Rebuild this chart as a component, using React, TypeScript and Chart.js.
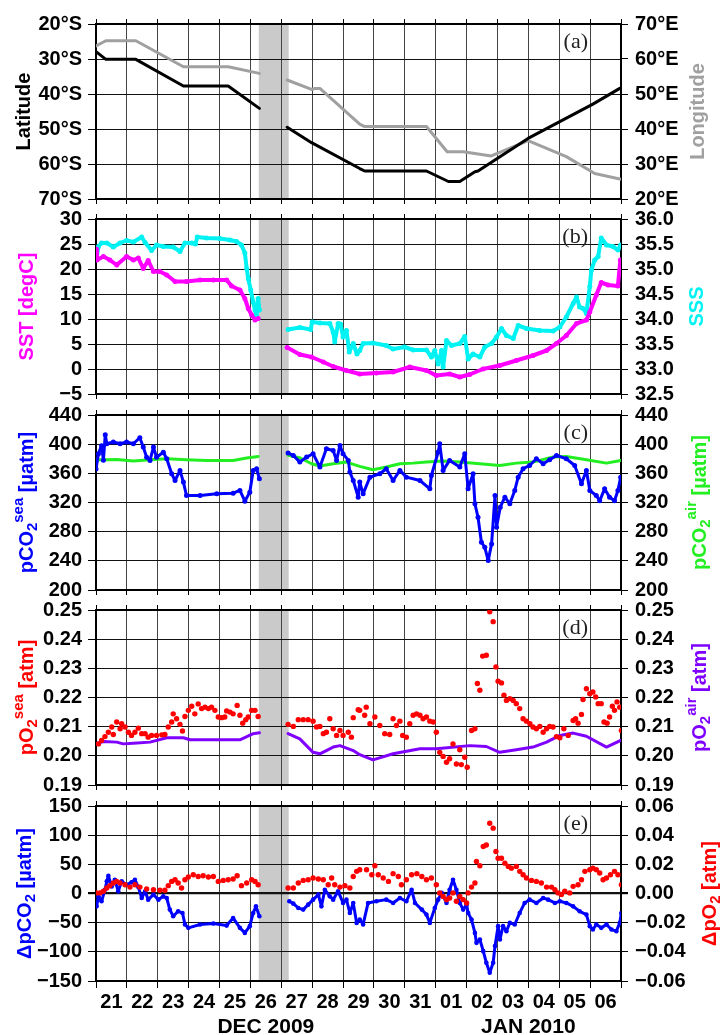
import React, { useEffect, useRef } from 'react';
import { Chart, registerables } from 'chart.js';

Chart.register(...registerables);

type P = [number, number];

// x = days since 21 Dec 2009 00:00 (UTC)
const dayLabels = ['21', '22', '23', '24', '25', '26', '27', '28', '29', '30', '31', '01', '02', '03', '04', '05', '06'];
const monthNames = ['DEC 2009', 'JAN 2010'];
const monthSpans: P[] = [[0, 11], [11, 17]];
const panelLetters = ['(a)', '(b)', '(c)', '(d)', '(e)'];
const gapBand: P = [5.27, 6.24];

const latTicks = [20, 30, 40, 50, 60, 70];
const lonTicks = [20, 30, 40, 50, 60, 70];
const sstTicks = [-5, 0, 5, 10, 15, 20, 25, 30];
const sssTicks = [32.5, 33, 33.5, 34, 34.5, 35, 35.5, 36];
const pco2Ticks = [200, 240, 280, 320, 360, 400, 440];
const po2Ticks = [0.19, 0.2, 0.21, 0.22, 0.23, 0.24, 0.25];
const dpco2Ticks = [-150, -100, -50, 0, 50, 100, 150];
const dpo2Ticks = [-0.06, -0.04, -0.02, 0, 0.02, 0.04, 0.06];

// (a) latitude [deg S] and longitude [deg E]
const latitude: P[] = [
  [0, 27.9], [0.32, 30.1], [1.29, 30.1], [2.83, 37.7], [4.28, 37.7], [5.29, 44.1],
  [6.19, 49.5], [6.98, 53.9], [8.54, 61.3], [8.7, 62], [10.7, 62], [11.41, 65], [11.78, 65],
  [12.27, 62.2], [12.37, 62], [13.99, 52.7], [16.09, 42.9], [16.96, 38.4],
];
const longitude: P[] = [
  [0, 63.7], [0.32, 65.2], [1.29, 65.2], [2.83, 57.8], [4.28, 57.8], [5.29, 55.9],
  [6.19, 54], [6.98, 51.3], [7.1, 51.6], [7.25, 51.6], [8.54, 41.4], [8.7, 40.7], [10.7, 40.7],
  [11.37, 33.5], [11.89, 33.5], [12.8, 32.3], [13.99, 36.7], [15.23, 32.1], [16.15, 27.3], [17, 25.6],
];

// (b) SST [degC] and SSS
const sst: P[] = [
  [0.0, 24.0], [0.03, 21.8], [0.24, 22.5], [0.45, 21.8], [0.67, 20.8], [0.99, 22.5], [1.21, 21.8],
  [1.37, 22.2], [1.53, 20.1], [1.69, 21.7], [1.86, 19.5], [2.07, 19.5], [2.29, 18.8], [2.56, 17.5],
  [2.93, 17.5], [3.37, 17.8], [3.8, 17.8], [4.23, 17.8], [4.39, 16.6], [4.66, 15.8], [4.82, 14.1],
  [4.93, 12.1], [5.04, 10.8], [5.15, 9.8], [5.25, 10.1],
  [6.19, 4.3], [6.6, 2.9], [6.98, 2.4], [7.36, 1.4], [7.68, 0.5], [8.11, -0.3], [8.54, -1.0],
  [9.08, -0.8], [9.62, -0.6], [10.16, 0.4], [10.7, -0.3], [11.02, -1.3], [11.45, -1.0], [11.78, -1.6],
  [12.1, -1.1], [12.53, 0.0], [13.07, 0.7], [13.61, 1.7], [14.15, 2.7], [14.59, 3.7], [14.91, 5.1],
  [15.23, 6.7], [15.56, 9.1], [15.88, 9.8], [15.99, 11.4], [16.2, 14.8], [16.36, 17.3], [16.58, 16.8],
  [16.9, 16.6], [16.98, 21.8],
];
const sss: P[] = [
  [0.02, 35.22], [0.08, 35.45], [0.18, 35.52], [0.35, 35.52], [0.56, 35.44], [0.78, 35.52], [0.99, 35.57],
  [1.21, 35.54], [1.48, 35.64], [1.59, 35.53], [1.8, 35.37], [1.96, 35.48], [2.18, 35.45], [2.5, 35.44],
  [2.72, 35.35], [2.88, 35.52], [3.1, 35.52], [3.22, 35.5], [3.28, 35.64], [3.58, 35.62], [4.01, 35.61],
  [4.34, 35.58], [4.55, 35.55], [4.71, 35.48], [4.82, 35.32], [4.88, 35.01], [4.93, 34.81], [5.01, 34.58],
  [5.09, 34.34], [5.15, 34.18], [5.2, 34.06], [5.25, 34.41], [5.29, 34.18],
  [6.22, 33.79], [6.6, 33.83], [6.95, 33.79], [7.0, 33.94], [7.25, 33.92], [7.57, 33.91], [7.68, 33.74],
  [7.73, 33.54], [7.84, 33.91], [7.92, 33.9], [8.0, 33.64], [8.11, 33.77], [8.2, 33.34], [8.33, 33.51],
  [8.45, 33.3], [8.54, 33.37], [8.65, 33.51], [8.97, 33.52], [9.4, 33.47], [9.62, 33.4], [9.99, 33.44],
  [10.27, 33.38], [10.7, 33.38], [10.86, 33.24], [10.97, 33.37], [11.08, 33.1], [11.19, 33.37],
  [11.24, 33.04], [11.35, 33.57], [11.51, 33.47], [11.78, 33.51], [11.94, 33.65], [12.05, 33.2],
  [12.21, 33.3], [12.43, 33.24], [12.59, 33.44], [12.81, 33.51], [12.97, 33.64], [13.13, 33.81],
  [13.29, 33.67], [13.51, 33.61], [13.67, 33.87], [13.94, 33.81], [14.37, 33.77], [14.8, 33.76],
  [15.02, 33.84], [15.23, 34.04], [15.45, 34.31], [15.56, 34.44], [15.66, 34.24], [15.77, 34.21],
  [15.88, 34.11], [15.99, 34.65], [16.04, 34.98], [16.15, 35.18], [16.26, 35.25], [16.36, 35.62],
  [16.53, 35.48], [16.74, 35.45], [16.9, 35.38], [16.99, 35.48],
];

// (c) pCO2 sea / air [uatm]
const pco2Sea: P[] = [
  [0.0, 366], [0.08, 387], [0.18, 398], [0.24, 378], [0.3, 413], [0.35, 400.6], [0.56, 403], [0.78, 400.6],
  [0.99, 403], [1.21, 400.6], [1.42, 408.9], [1.53, 396], [1.64, 382], [1.75, 377.7], [1.86, 396],
  [1.96, 382], [2.18, 389], [2.29, 380], [2.45, 359.4], [2.56, 350.2], [2.72, 364], [2.83, 348],
  [2.93, 329.6], [3.37, 329.6], [3.91, 331.9], [4.44, 332.8], [4.66, 336.5], [4.82, 321.8], [4.98, 334.2],
  [5.09, 364], [5.2, 366.3], [5.29, 352.5],
  [6.22, 387.8], [6.39, 384.6], [6.6, 375.4], [6.82, 382.3], [7.03, 386.9], [7.25, 368.6], [7.46, 393.7],
  [7.68, 391.4], [7.79, 377.7], [7.9, 398.3], [8.0, 386.9], [8.17, 377.7], [8.22, 361.7], [8.33, 350.2],
  [8.49, 327.3], [8.54, 348], [8.65, 332], [8.87, 354.8], [9.19, 359.4], [9.4, 366.3], [9.62, 350.2],
  [9.84, 364], [10.05, 354.8], [10.49, 350.2], [10.81, 338.8], [10.86, 357], [11.08, 389.2],
  [11.13, 400.6], [11.24, 364], [11.45, 377.7], [11.78, 368.6], [11.94, 386.9], [12.05, 338.8],
  [12.21, 359.4], [12.27, 318.2], [12.37, 299.8], [12.48, 265.5], [12.59, 258.6], [12.7, 240.3],
  [12.81, 263.2], [12.92, 329.6], [12.97, 286.1], [13.09, 313.6], [13.24, 327.3], [13.4, 318.2],
  [13.56, 336.5], [13.67, 354.8], [13.83, 366.3], [14.04, 370.8], [14.26, 380], [14.48, 373.1],
  [14.69, 378.6], [14.91, 384.6], [15.23, 380], [15.5, 370.8], [15.72, 345.6], [15.88, 364],
  [15.99, 336.5], [16.2, 329.6], [16.31, 322.3], [16.47, 338.8], [16.63, 327.3], [16.79, 322.3],
  [16.9, 336.5], [16.99, 354.8],
];
const pco2Air: P[] = [
  [0.02, 378.6], [0.24, 378.6], [0.67, 379], [1.21, 376.8], [1.75, 378.6], [2.29, 380], [2.93, 378.6],
  [3.58, 377.7], [4.44, 377.7], [4.88, 381], [5.25, 383.2],
  [6.22, 384.6], [6.6, 381.4], [6.98, 373.1], [7.25, 370], [7.68, 373.1], [8.11, 375.4], [8.54, 369.5],
  [8.97, 364.9], [9.4, 368.6], [9.84, 373.1], [10.27, 374], [10.7, 375.4], [11.24, 376.8], [11.78, 375.4],
  [12.43, 373.1], [13.07, 370.8], [13.61, 374], [14.15, 375.4], [14.8, 382.3], [15.23, 383.2],
  [15.88, 378.6], [16.53, 374], [16.99, 377.7],
];

// (d) pO2 sea / air [atm]
const po2Sea: P[] = [
  [0.08, 0.2041], [0.18, 0.2053], [0.29, 0.2066], [0.4, 0.2081], [0.51, 0.2099], [0.56, 0.2073],
  [0.67, 0.2116], [0.78, 0.2093], [0.83, 0.211], [0.94, 0.2099], [1.05, 0.2081], [1.15, 0.207],
  [1.26, 0.2081], [1.37, 0.2095], [1.48, 0.2076], [1.59, 0.2076], [1.69, 0.2064], [1.8, 0.207],
  [1.96, 0.207], [2.13, 0.2072], [2.23, 0.2073], [2.34, 0.2099], [2.45, 0.2116], [2.5, 0.2144],
  [2.61, 0.2127], [2.72, 0.2108], [2.8, 0.2085], [2.88, 0.2135], [2.99, 0.2156], [3.1, 0.217],
  [3.2, 0.2144], [3.31, 0.2178], [3.42, 0.2162], [3.53, 0.2167], [3.64, 0.2162], [3.74, 0.2167],
  [3.85, 0.2156], [3.96, 0.2133], [4.07, 0.2131], [4.17, 0.2133], [4.23, 0.2154], [4.34, 0.215],
  [4.44, 0.2144], [4.57, 0.2173], [4.66, 0.2139], [4.75, 0.2112], [4.85, 0.2124], [4.93, 0.2133],
  [5.04, 0.2156], [5.15, 0.2156], [5.25, 0.2135],
  [6.22, 0.2108], [6.39, 0.2101], [6.55, 0.2124], [6.71, 0.2124], [6.87, 0.2124], [7.03, 0.2119],
  [7.14, 0.2099], [7.25, 0.2101], [7.36, 0.2076], [7.46, 0.2081], [7.57, 0.2127], [7.68, 0.2093],
  [7.79, 0.207], [7.9, 0.2087], [8.0, 0.207], [8.17, 0.2081], [8.27, 0.2064], [8.33, 0.2131],
  [8.49, 0.2158], [8.54, 0.2156], [8.7, 0.2139], [8.75, 0.2167], [8.87, 0.211], [9.03, 0.2133],
  [9.19, 0.2104], [9.35, 0.2076], [9.51, 0.2073], [9.62, 0.2127], [9.73, 0.2104], [9.84, 0.2119],
  [9.93, 0.207], [10.05, 0.2064], [10.16, 0.211], [10.27, 0.2139], [10.38, 0.2144], [10.49, 0.2139],
  [10.59, 0.2127], [10.7, 0.2133], [10.81, 0.2119], [10.92, 0.2116], [11.02, 0.2081], [11.13, 0.2012],
  [11.24, 0.1998], [11.35, 0.1978], [11.45, 0.199], [11.56, 0.2041], [11.67, 0.1972], [11.78, 0.2021],
  [11.83, 0.197], [11.94, 0.1995], [12.02, 0.1961], [12.16, 0.2087], [12.27, 0.2093], [12.35, 0.2248],
  [12.43, 0.2225], [12.52, 0.2342], [12.64, 0.2345], [12.75, 0.2494], [12.86, 0.246], [12.95, 0.2305],
  [13.02, 0.2256], [13.13, 0.225], [13.21, 0.2208], [13.29, 0.219], [13.4, 0.2196], [13.51, 0.219],
  [13.61, 0.2179], [13.72, 0.2162], [13.83, 0.2127], [13.94, 0.2119], [14.05, 0.211], [14.15, 0.2099],
  [14.26, 0.2093], [14.37, 0.2101], [14.48, 0.2081], [14.59, 0.2093], [14.69, 0.2101], [14.8, 0.2099],
  [14.91, 0.2066], [15.02, 0.2062], [15.15, 0.2093], [15.29, 0.207], [15.45, 0.2121], [15.53, 0.2127],
  [15.61, 0.2112], [15.72, 0.2142], [15.77, 0.2193], [15.88, 0.223], [15.99, 0.2213], [16.09, 0.2219],
  [16.18, 0.2202], [16.26, 0.2179], [16.36, 0.2179], [16.45, 0.2116], [16.55, 0.2112], [16.63, 0.2133],
  [16.72, 0.217], [16.79, 0.2156], [16.87, 0.2185], [16.96, 0.2167], [17.01, 0.2087],
];
const po2Air: P[] = [
  [0.0, 0.2041], [0.24, 0.2049], [0.67, 0.2047], [0.88, 0.2041], [1.21, 0.2043], [1.75, 0.2047],
  [2.29, 0.2062], [2.83, 0.2062], [3.04, 0.2055], [3.91, 0.2055], [4.66, 0.2055], [5.09, 0.2076],
  [5.29, 0.2079],
  [6.22, 0.2076], [6.6, 0.2058], [7.03, 0.2012], [7.25, 0.2007], [7.68, 0.203], [7.9, 0.2035],
  [8.33, 0.2018], [8.54, 0.2004], [8.97, 0.1986], [9.62, 0.2007], [10.49, 0.2024], [11.02, 0.2024],
  [12.1, 0.2035], [12.64, 0.2032], [13.07, 0.2012], [13.61, 0.2021], [14.15, 0.203], [14.59, 0.2047],
  [15.02, 0.207], [15.45, 0.2078], [15.88, 0.2067], [16.53, 0.203], [16.99, 0.2053],
];

// (e) delta pCO2 [uatm] and delta pO2 [atm]
const dpco2: P[] = [
  [0.02, -22], [0.08, -4.9], [0.18, -13.4], [0.29, 6.5], [0.35, 20.8], [0.4, 30.4], [0.51, 12.2],
  [0.61, 23.6], [0.72, 3.7], [0.83, 20.8], [0.99, 15.1], [1.15, 19.1], [1.26, 23.6], [1.37, 11.1],
  [1.48, -7.7], [1.59, 3.7], [1.69, -10.5], [1.86, -2], [2.02, -10.5], [2.18, -4.9], [2.29, -7.7],
  [2.39, -27.6], [2.5, -39], [2.66, -30.5], [2.8, -33.3], [2.88, -53.2], [2.99, -58.9], [3.37, -53.2],
  [3.8, -51.5], [4.23, -55], [4.44, -41.9], [4.66, -58.9], [4.82, -67.5], [4.98, -56], [5.09, -33.3],
  [5.18, -22], [5.29, -39],
  [6.26, -13.4], [6.39, -17.4], [6.55, -24.8], [6.71, -27.6], [6.87, -19.1], [7.03, -10.5], [7.2, -2],
  [7.3, -22], [7.41, 6.5], [7.57, -4.9], [7.68, -10.5], [7.84, 3.7], [8.0, -16.2], [8.11, -10.5],
  [8.22, -33.3], [8.33, -16.2], [8.44, -50.4], [8.54, -44.7], [8.65, -53], [8.81, -16.2], [9.08, -13.4],
  [9.4, -10.5], [9.62, -16.2], [9.84, -7.7], [10.05, -13.4], [10.22, 6.5], [10.33, -16.2], [10.55, -27.6],
  [10.7, -36.2], [10.81, -50.4], [10.97, -24.8], [11.08, -10.5], [11.19, 1], [11.35, -16.2], [11.45, 6.5],
  [11.56, 23.6], [11.67, 6.5], [11.78, -16.2], [11.89, -27.6], [12.0, -19.1], [12.05, -33.3],
  [12.16, -44.7], [12.27, -67.5], [12.32, -84.6], [12.43, -78.9], [12.54, -98.8], [12.64, -118.7],
  [12.75, -135.8], [12.86, -118.7], [12.92, -90.2], [13.02, -56], [13.08, -78.9], [13.18, -56],
  [13.29, -64.6], [13.4, -50.4], [13.56, -53.2], [13.72, -33.3], [13.88, -16.2], [14.04, -10.5],
  [14.26, -16.2], [14.48, -7.7], [14.64, -10.5], [14.86, -16.2], [15.02, -13.4], [15.23, -16.2],
  [15.45, -22], [15.66, -30.5], [15.88, -36.2], [15.99, -56], [16.09, -61.8], [16.2, -53.2],
  [16.36, -58.9], [16.53, -53.2], [16.69, -61.8], [16.85, -64.6], [16.96, -50.4], [17.01, -33.3],
];
const dpo2: P[] = [
  [0.02, 0.0004], [0.13, 0.0004], [0.24, 0.0015], [0.35, 0.0038], [0.45, 0.0054], [0.56, 0.0072],
  [0.67, 0.0083], [0.78, 0.0072], [0.94, 0.006], [1.1, 0.0044], [1.26, 0.006], [1.42, 0.0044],
  [1.64, 0.0031], [1.86, 0.0026], [2.07, 0.0022], [2.23, 0.0022], [2.34, 0.0054], [2.45, 0.0083],
  [2.56, 0.0094], [2.66, 0.0072], [2.77, 0.0038], [2.88, 0.0094], [2.99, 0.0113], [3.15, 0.0129],
  [3.31, 0.0117], [3.47, 0.0122], [3.64, 0.0113], [3.8, 0.0117], [3.96, 0.0083], [4.12, 0.009],
  [4.28, 0.0094], [4.44, 0.0099], [4.57, 0.0122], [4.71, 0.0054], [4.88, 0.0072], [5.04, 0.0094],
  [5.15, 0.0083], [5.25, 0.006],
  [6.22, 0.0038], [6.39, 0.0038], [6.55, 0.0072], [6.71, 0.009], [6.87, 0.0094], [7.03, 0.0106],
  [7.2, 0.0099], [7.36, 0.0094], [7.52, 0.006], [7.63, 0.0106], [7.73, 0.006], [7.9, 0.0044],
  [8.06, 0.0054], [8.22, 0.0038], [8.33, 0.0117], [8.44, 0.0152], [8.54, 0.0163], [8.76, 0.0163],
  [8.93, 0.0129], [9.03, 0.019], [9.14, 0.0129], [9.3, 0.0106], [9.47, 0.0083], [9.62, 0.0136],
  [9.79, 0.0117], [9.89, 0.006], [10.05, 0.0094], [10.22, 0.0129], [10.39, 0.0136], [10.55, 0.0117],
  [10.7, 0.0094], [10.86, 0.0106], [11.02, 0.006], [11.13, 0.0004], [11.24, -0.002], [11.35, -0.0042],
  [11.45, -0.0031], [11.56, 0.0004], [11.67, -0.0053], [11.78, -0.002], [11.89, -0.0042],
  [12.0, -0.0065], [12.05, 0.0004], [12.16, 0.0044], [12.27, 0.0072], [12.32, 0.022], [12.43, 0.019],
  [12.54, 0.0322], [12.64, 0.0333], [12.75, 0.0482], [12.86, 0.0448], [12.95, 0.0288], [13.02, 0.0242],
  [13.13, 0.0242], [13.24, 0.0208], [13.35, 0.0186], [13.45, 0.0174], [13.61, 0.0186], [13.72, 0.0152],
  [13.83, 0.0129], [13.94, 0.0106], [14.1, 0.009], [14.26, 0.0083], [14.42, 0.0072], [14.59, 0.0044],
  [14.75, 0.0044], [14.86, 0.0026], [14.96, 0.0004], [15.07, -0.0007], [15.18, 0.0015], [15.34, 0.0004],
  [15.45, 0.0049], [15.61, 0.006], [15.72, 0.0094], [15.83, 0.0152], [15.99, 0.0163], [16.09, 0.0174],
  [16.2, 0.0163], [16.31, 0.0141], [16.42, 0.0094], [16.53, 0.0106], [16.66, 0.0129], [16.79, 0.0152],
  [16.9, 0.0129], [17.01, 0.006],
];

const FONT = '"Liberation Sans", Arial, Helvetica, sans-serif';
const TICK_SIZE = 20;
const GAP_MID = (gapBand[0] + gapBand[1]) / 2;
const TOPBOX = 22;
const PH = 175;

type Seg = { t: string; k?: 'sub' | 'sup' };
interface AxisSpec {
  ticks: number[];
  fmt: (v: number) => string;
  reverse?: boolean;
  title: Seg[];
  color: string;
  tx: number;
}
interface SeriesSpec {
  data: P[];
  side: 'L' | 'R';
  color: string;
  mode: 'line' | 'dots' | 'both';
  width?: number;
  radius?: number;
}
interface PanelSpec {
  top: number;
  idx: number;
  L: AxisSpec;
  R: AxisSpec;
  series: SeriesSpec[];
  last?: boolean;
  zero?: boolean;
}

const signed = (v: number, d: number) => {
  const s = Math.abs(v).toFixed(d);
  return v < -1e-9 ? '\u2212' + s : s;
};

function drawTitle(ctx: CanvasRenderingContext2D, segs: Seg[], cx: number, cy: number, color: string) {
  ctx.save();
  ctx.translate(cx, cy);
  ctx.rotate(-Math.PI / 2);
  ctx.fillStyle = color;
  ctx.textBaseline = 'middle';
  ctx.textAlign = 'left';
  const fontOf = (s: Seg) => `bold ${s.k ? 15 : 20}px ${FONT}`;
  let total = 0;
  segs.forEach((s) => {
    ctx.font = fontOf(s);
    total += ctx.measureText(s.t).width;
  });
  let x = -total / 2;
  segs.forEach((s) => {
    ctx.font = fontOf(s);
    const dy = s.k === 'sub' ? 6 : s.k === 'sup' ? -8 : 0;
    ctx.fillText(s.t, x, dy);
    x += ctx.measureText(s.t).width;
  });
  ctx.restore();
}

const bandPlugin = {
  id: 'band',
  beforeDraw(chart: any) {
    const { ctx, chartArea: a, scales } = chart;
    const x0 = scales.x.getPixelForValue(gapBand[0]);
    const x1 = scales.x.getPixelForValue(gapBand[1]);
    ctx.save();
    ctx.fillStyle = '#CACACA';
    ctx.fillRect(x0, a.top, x1 - x0, a.bottom - a.top);
    ctx.restore();
  },
};

function makeDecor(spec: PanelSpec) {
  return {
    id: 'decor',
    afterDraw(chart: any) {
      const { ctx, chartArea: a, scales } = chart;
      const cy = (a.top + a.bottom) / 2;
      drawTitle(ctx, spec.L.title, spec.L.tx, cy, spec.L.color);
      drawTitle(ctx, spec.R.title, spec.R.tx, cy, spec.R.color);
      ctx.save();
      ctx.font = `22px "Liberation Serif", "Times New Roman", serif`;
      ctx.fillStyle = '#222';
      ctx.textAlign = 'right';
      ctx.textBaseline = 'middle';
      ctx.fillText(panelLetters[spec.idx], a.right - 33, a.top + 18);
      if (spec.last) {
        ctx.font = `bold 21px ${FONT}`;
        ctx.fillStyle = '#000';
        ctx.textAlign = 'center';
        monthNames.forEach((m, i) => {
          const xc = (scales.x.getPixelForValue(monthSpans[i][0]) + scales.x.getPixelForValue(monthSpans[i][1])) / 2;
          ctx.fillText(m, xc, a.bottom + 46);
        });
      }
      ctx.restore();
    },
  };
}

const dayTicks = dayLabels.map((_, i) => i).concat([dayLabels.length]);
const labelTicks = dayTicks.concat(dayLabels.map((_, i) => i + 0.5)).sort((p, q) => p - q);
const isInt = (v: number) => Math.abs(v - Math.round(v)) < 1e-6;

function Panel({ spec }: { spec: PanelSpec }) {
  const ref = useRef<HTMLCanvasElement>(null);
  const BOT = spec.last ? 54 : 22;
  const height = TOPBOX + PH + BOT;
  useEffect(() => {
    const tickFont = { family: FONT, size: TICK_SIZE, weight: 'bold' as const };
    const yAxis = (ax: AxisSpec, pos: 'left' | 'right', onArea: boolean) => ({
      type: 'linear' as const,
      position: pos,
      min: Math.min(...ax.ticks),
      max: Math.max(...ax.ticks),
      reverse: !!ax.reverse,
      afterBuildTicks: (s: any) => {
        s.ticks = ax.ticks.map((v) => ({ value: v }));
      },
      ticks: {
        autoSkip: false,
        padding: pos === 'left' ? 6 : 7,
        color: '#000',
        font: tickFont,
        callback: (v: any) => ax.fmt(Number(v)),
      },
      grid: {
        drawOnChartArea: onArea,
        color: '#111',
        tickColor: '#000',
        lineWidth: (c: any) => (spec.zero && c.tick && Math.abs(c.tick.value) < 1e-9 ? 2.2 : 1),
        tickLength: pos === 'left' ? 8 : 7,
      },
      border: { color: '#000', width: 2 },
      afterFit: (s: any) => {
        s.width = pos === 'left' ? 96 : 103;
      },
    });
    const chart = new Chart(ref.current as HTMLCanvasElement, {
      type: 'scatter',
      data: {
        datasets: spec.series.map((s) => ({
          data: s.data.map(([x, y]) => ({ x, y })),
          xAxisID: 'x',
          yAxisID: s.side === 'L' ? 'y' : 'y2',
          showLine: s.mode !== 'dots',
          borderColor: s.color,
          backgroundColor: s.color,
          borderWidth: s.width ?? 3,
          borderJoinStyle: 'round',
          borderCapStyle: 'round',
          pointRadius: s.mode === 'line' ? 0 : s.radius ?? 2,
          pointBorderWidth: 0,
          pointHoverRadius: 0,
          tension: 0,
          segment: {
            borderColor: (c: any) =>
              c.p0.parsed.x < GAP_MID && c.p1.parsed.x > GAP_MID ? 'rgba(0,0,0,0)' : undefined,
          },
        })),
      },
      options: {
        responsive: false,
        animation: false,
        devicePixelRatio: 1,
        events: [],
        layout: { padding: 0 },
        plugins: { legend: { display: false }, tooltip: { enabled: false } },
        scales: {
          x: {
            type: 'linear',
            position: 'bottom',
            min: 0,
            max: dayLabels.length,
            afterBuildTicks: (s: any) => {
              s.ticks = (spec.last ? labelTicks : dayTicks).map((v) => ({ value: v }));
            },
            ticks: {
              display: !!spec.last,
              autoSkip: false,
              maxRotation: 0,
              minRotation: 0,
              padding: 2,
              color: '#000',
              font: tickFont,
              callback: (v: any) => {
                const n = Number(v);
                return isInt(n) ? '' : dayLabels[Math.floor(n)];
              },
            },
            grid: {
              color: (c: any) => (c.tick && isInt(c.tick.value) ? '#444' : 'rgba(0,0,0,0)'),
              tickColor: (c: any) => (c.tick && isInt(c.tick.value) ? '#000' : 'rgba(0,0,0,0)'),
              lineWidth: 1,
              tickLength: spec.last ? 7 : 5,
            },
            border: { color: '#000', width: 2 },
            afterFit: (s: any) => {
              s.height = BOT;
            },
          },
          x2: {
            type: 'linear',
            position: 'top',
            min: 0,
            max: dayLabels.length,
            afterBuildTicks: (s: any) => {
              s.ticks = dayTicks.map((v) => ({ value: v }));
            },
            ticks: { display: false },
            grid: { drawOnChartArea: false, color: '#000', tickLength: 5, lineWidth: 1 },
            border: { color: '#000', width: 2 },
            afterFit: (s: any) => {
              s.height = TOPBOX;
            },
          },
          y: yAxis(spec.L, 'left', true),
          y2: yAxis(spec.R, 'right', false),
        },
      } as any,
      plugins: [bandPlugin, makeDecor(spec)],
    });
    return () => chart.destroy();
  }, [spec]);
  return (
    <canvas
      ref={ref}
      width={724}
      height={height}
      style={{ position: 'absolute', left: 0, top: spec.top - TOPBOX, width: 724, height }}
    />
  );
}

const CYAN = '#00F2F2';
const MAGENTA = '#FF00FF';
const BLUE = '#0000FF';
const GREEN = '#22EE22';
const RED = '#FF0000';
const PURPLE = '#7F00FF';
const GRAY = '#A0A0A0';

const panels: PanelSpec[] = [
  {
    top: 24,
    idx: 0,
    L: { ticks: latTicks, fmt: (v) => `${v}°S`, reverse: true, title: [{ t: 'Latitude' }], color: '#000', tx: 24 },
    R: { ticks: lonTicks, fmt: (v) => `${v}°E`, title: [{ t: 'Longitude' }], color: GRAY, tx: 698 },
    series: [
      { data: latitude, side: 'L', color: '#000', mode: 'line', width: 3 },
      { data: longitude, side: 'R', color: GRAY, mode: 'line', width: 3 },
    ],
  },
  {
    top: 219,
    idx: 1,
    L: { ticks: sstTicks, fmt: (v) => signed(v, 0), title: [{ t: 'SST [degC]' }], color: MAGENTA, tx: 27 },
    R: { ticks: sssTicks, fmt: (v) => v.toFixed(1), title: [{ t: 'SSS' }], color: CYAN, tx: 697 },
    series: [
      { data: sst, side: 'L', color: MAGENTA, mode: 'both', width: 4, radius: 2.5 },
      { data: sss, side: 'R', color: CYAN, mode: 'both', width: 4, radius: 2.5 },
    ],
  },
  {
    top: 415,
    idx: 2,
    L: {
      ticks: pco2Ticks,
      fmt: (v) => String(v),
      title: [{ t: 'pCO' }, { t: '2', k: 'sub' }, { t: 'sea', k: 'sup' }, { t: ' [µatm]' }],
      color: BLUE,
      tx: 27,
    },
    R: {
      ticks: pco2Ticks,
      fmt: (v) => String(v),
      title: [{ t: 'pCO' }, { t: '2', k: 'sub' }, { t: 'air', k: 'sup' }, { t: ' [µatm]' }],
      color: GREEN,
      tx: 700,
    },
    series: [
      { data: pco2Sea, side: 'L', color: BLUE, mode: 'both', width: 3, radius: 2.5 },
      { data: pco2Air, side: 'R', color: GREEN, mode: 'line', width: 3 },
    ],
  },
  {
    top: 610,
    idx: 3,
    L: {
      ticks: po2Ticks,
      fmt: (v) => v.toFixed(2),
      title: [{ t: 'pO' }, { t: '2', k: 'sub' }, { t: 'sea', k: 'sup' }, { t: ' [atm]' }],
      color: RED,
      tx: 27,
    },
    R: {
      ticks: po2Ticks,
      fmt: (v) => v.toFixed(2),
      title: [{ t: 'pO' }, { t: '2', k: 'sub' }, { t: 'air', k: 'sup' }, { t: ' [atm]' }],
      color: PURPLE,
      tx: 700,
    },
    series: [
      { data: po2Sea, side: 'L', color: RED, mode: 'dots', radius: 2.7 },
      { data: po2Air, side: 'R', color: PURPLE, mode: 'line', width: 3 },
    ],
  },
  {
    top: 806,
    idx: 4,
    last: true,
    zero: true,
    L: {
      ticks: dpco2Ticks,
      fmt: (v) => signed(v, 0),
      title: [{ t: 'ΔpCO' }, { t: '2', k: 'sub' }, { t: ' [µatm]' }],
      color: BLUE,
      tx: 25,
    },
    R: {
      ticks: dpo2Ticks,
      fmt: (v) => signed(v, 2),
      title: [{ t: 'ΔpO' }, { t: '2', k: 'sub' }, { t: ' [atm]' }],
      color: RED,
      tx: 710,
    },
    series: [
      { data: dpo2, side: 'R', color: RED, mode: 'dots', radius: 2.7 },
      { data: dpco2, side: 'L', color: BLUE, mode: 'both', width: 3, radius: 2.3 },
    ],
  },
];

export default function App() {
  return (
    <div style={{ position: 'absolute', left: 0, top: 0, width: 724, height: 1035, background: '#fff', overflow: 'hidden' }}>
      {panels.map((p) => (
        <Panel key={p.idx} spec={p} />
      ))}
    </div>
  );
}
